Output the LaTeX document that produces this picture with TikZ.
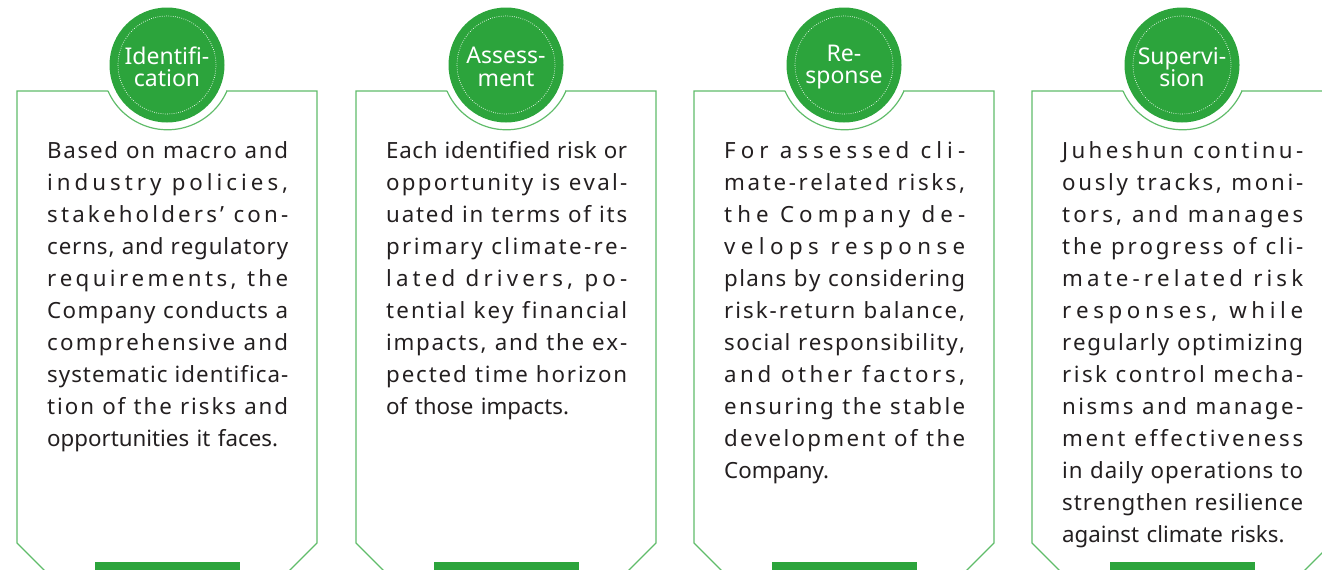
\documentclass[tikz,border=0pt]{standalone}
\usepackage{fontspec}
\setmainfont{Noto Sans}
\definecolor{leafgreen}{RGB}{44,164,60}
\definecolor{framegreen}{RGB}{96,188,106}
\definecolor{bodyink}{RGB}{35,31,32}
% spread a line over letters and spaces alike
\XeTeXinterchartoks 0 0 = {\hskip 0pt plus 1fil\relax}
\newcommand{\fullLine}[1]{\makebox[241pt][s]{\XeTeXinterchartokenstate=1 \spaceskip=0.28em plus 1fil\relax #1}\\}
\newcommand{\climPanel}[4]{%
    \draw[framegreen, line width=1.2pt]
        (#1+91,91) -- (#1,91) -- (#1,543) -- ++(40,40)
        (#1+209,91) -- (#1+300,91) -- (#1+300,543) -- ++(-40,40);
    \draw[framegreen, line width=1.2pt] (#1+91,91) arc[start angle=203.8, end angle=336.2, radius=65pt];
    \fill[leafgreen] (#1+78,562) rectangle ++(145,10);
    \node[badge] (#2) at (#1+150,65) {};
    \draw[white, line width=0.7pt, dash pattern=on 0.7pt off 1.5pt] (#2.center) circle[radius=49pt];
    \node[badgetext] (#2-title) at (#1+150,67) {#3};
    \node[bodybox] (#2-text) at (#1+30,136) {#4};
}
\tikzset{
    badge/.style={circle, fill=leafgreen, minimum size=115pt, inner sep=0pt},
    badgetext/.style={align=center, text=white, inner sep=0pt, font=\fontsize{23}{22.5}\selectfont},
    bodybox/.style={anchor=north west, inner sep=0pt, text width=241pt, align=left, text=bodyink,
        font=\fontsize{22.3}{32}\selectfont, execute at begin node=\strut}
}

\begin{document}
\begin{tikzpicture}[x=1pt, y=-1pt]
    \useasboundingbox (0,0) rectangle (1322,570);
    \clip (0,0) rectangle (1322,570);

    \climPanel{17}{ident}{Identifi-\\cation}{%
        \fullLine{Based on macro and}
        \fullLine{industry policies,}
        \fullLine{stakeholders’ con-}
        \fullLine{cerns, and regulatory}
        \fullLine{requirements, the}
        \fullLine{Company conducts a}
        \fullLine{comprehensive and}
        \fullLine{systematic identifica-}
        \fullLine{tion of the risks and}
        opportunities it faces.}

    \climPanel{356}{assess}{Assess-\\ment}{%
        \fullLine{Each identified risk or}
        \fullLine{opportunity is eval-}
        \fullLine{uated in terms of its}
        \fullLine{primary climate-re-}
        \fullLine{lated drivers, po-}
        \fullLine{tential key financial}
        \fullLine{impacts, and the ex-}
        \fullLine{pected time horizon}
        of those impacts.}

    \climPanel{694}{resp}{Re-\\sponse}{%
        \fullLine{For assessed cli-}
        \fullLine{mate-related risks,}
        \fullLine{the Company de-}
        \fullLine{velops response}
        \fullLine{plans by considering}
        \fullLine{risk-return balance,}
        \fullLine{social responsibility,}
        \fullLine{and other factors,}
        \fullLine{ensuring the stable}
        \fullLine{development of the}
        Company.}

    \climPanel{1032}{superv}{Supervi-\\sion}{%
        \fullLine{Juheshun continu-}
        \fullLine{ously tracks, moni-}
        \fullLine{tors, and manages}
        \fullLine{the progress of cli-}
        \fullLine{mate-related risk}
        \fullLine{responses, while}
        \fullLine{regularly optimizing}
        \fullLine{risk control mecha-}
        \fullLine{nisms and manage-}
        \fullLine{ment effectiveness}
        \fullLine{in daily operations to}
        \fullLine{strengthen resilience}
        against climate risks.}
\end{tikzpicture}
\end{document}
